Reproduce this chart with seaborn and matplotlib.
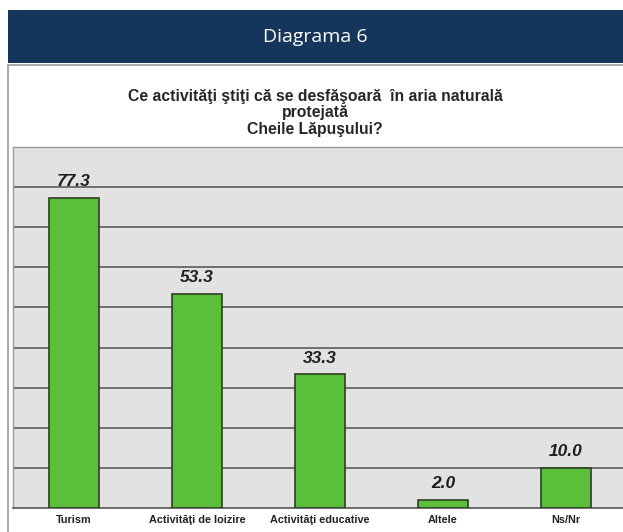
import matplotlib
matplotlib.use("Agg")
import matplotlib.pyplot as plt
import seaborn as sns
import pandas as pd
from matplotlib.patches import Rectangle

categories = ["Turism", "Activităţi de loizire", "Activităţi educative", "Altele", "Ns/Nr"]
values = [77.3, 53.3, 33.3, 2.0, 10.0]

df = pd.DataFrame({"cat": categories, "val": values})

sns.set_theme(style="white")
plt.rcParams["font.family"] = ["Liberation Sans", "DejaVu Sans"]

fig = plt.figure(figsize=(6.23, 5.32), dpi=100)
W, H = 623, 532

# header band and white box
fig.patches.append(Rectangle((8 / W, 1 - 63 / H), 1, 53 / H, transform=fig.transFigure,
                             facecolor="#15365a", edgecolor="none", zorder=0))
fig.patches.append(Rectangle((8 / W, -0.01), 1, (532 - 65) / H + 0.01, transform=fig.transFigure,
                             facecolor="white", edgecolor="#9a9a9a", linewidth=1.2, zorder=0))
fig.text(315 / W, 1 - 37 / H, "Diagrama 6", color="white", fontsize=14,
         family=["Open Sans", "DejaVu Sans"], ha="center", va="center")
fig.text(315 / W, 1 - 113 / H,
         "Ce activităţi ştiţi că se desfăşoară  în aria naturală\nprotejată\nCheile Lăpuşului?",
         fontsize=11.3, fontweight="bold", ha="center", va="center", linespacing=1.15)

ax = fig.add_axes([12.5 / W, (532 - 508) / H, 615 / W, (508 - 147) / H])
ax.set_zorder(5)
ax.set_facecolor("#e2e2e2")
sns.barplot(data=df, x="cat", y="val", ax=ax, color="#5cbf3c", width=0.4,
            edgecolor="#2d3f22", linewidth=1.2, saturation=1, zorder=3)
ax.set_ylim(0, 90)
ax.set_yticks(range(10, 90, 10))
ax.yaxis.grid(True, color="#6e6e6e", linewidth=1.4, zorder=1)
ax.set_axisbelow(True)
ax.set_yticklabels([])
ax.tick_params(axis="y", length=0)
ax.set_xlabel("")
ax.set_ylabel("")
ax.tick_params(axis="x", length=0, labelsize=7.8, pad=5, labelcolor="#222222")
for lab in ax.get_xticklabels():
    lab.set_fontweight("bold")
for s in ["top", "left", "right"]:
    ax.spines[s].set_color("#9a9a9a")
    ax.spines[s].set_linewidth(1)
ax.spines["bottom"].set_color("#555555")
ax.spines["bottom"].set_linewidth(1.2)

for i, v in enumerate(values):
    ax.text(i, v + 2.2, f"{v:.1f}", ha="center", va="bottom", fontsize=12.5,
            fontweight="bold", fontstyle="italic", color="#1e1e1e", zorder=4)

fig.savefig("out.png", dpi=100)
